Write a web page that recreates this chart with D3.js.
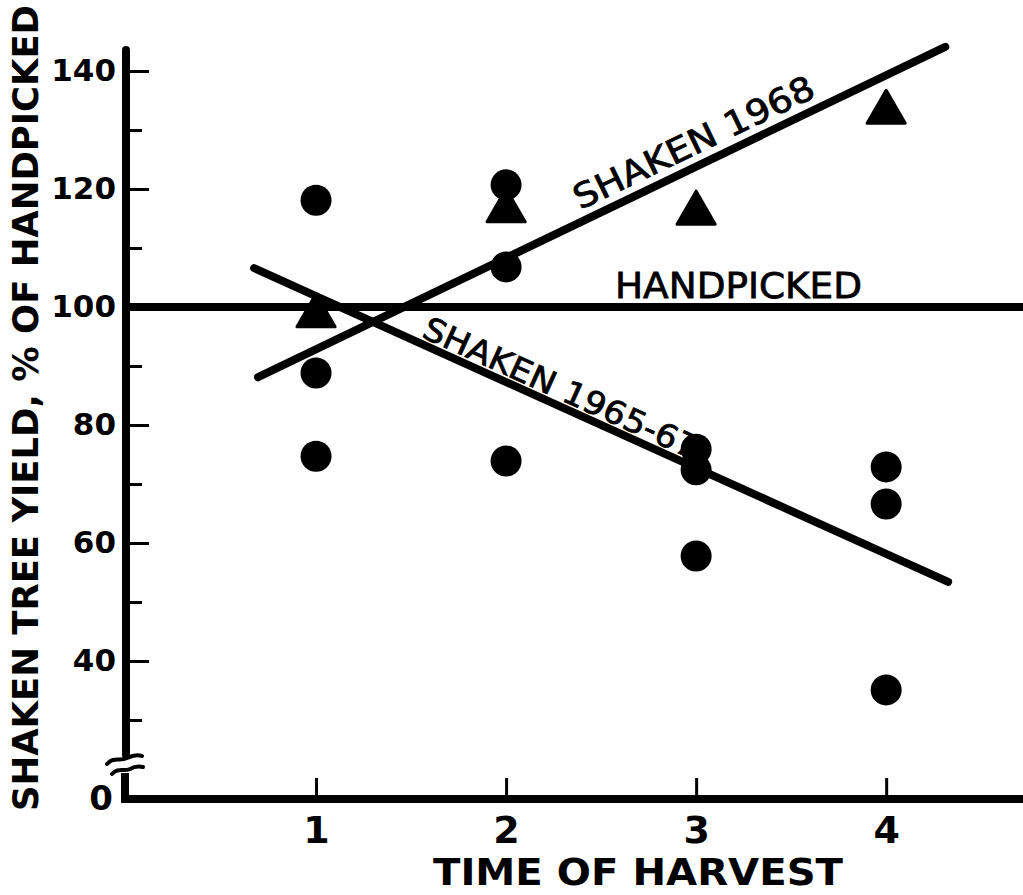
<!DOCTYPE html>
<html><head><meta charset="utf-8">
<script src="https://cdn.jsdelivr.net/npm/d3@7"></script>
<style>body{margin:0;background:#fff}svg{display:block}</style>
</head><body><svg id="c" width="1023" height="895"></svg>
<script>
// ---- data ----
const harvestTicks = [1, 2, 3, 4];
const yMajorTicks = [140, 120, 100, 80, 60, 40];
const yMinorTicks = [130, 110, 90, 70, 50, 30];
const yBreakTick = [0];
const shaken6567Time  = [1, 1, 1, 2, 2, 2, 3, 3, 3, 4, 4, 4];
const shaken6567Yield = [118.1, 88.8, 74.7, 120.7, 106.8, 73.9, 75.9, 72.4, 57.8, 72.9, 66.6, 35.1];
const shaken1968Time  = [1, 2, 3, 4];
const shaken1968Yield = [98.5, 116.3, 115.9, 133.0];
const fit1968Time  = [0.695, 4.311];
const fit1968Yield = [88.1, 144.1];
const fit6567Time  = [0.674, 4.326];
const fit6567Yield = [106.6, 53.4];
const handpickedYield = 100;

// ---- layout ----
const svg = d3.select("#c");
const FONT = "'DejaVu Sans', 'Liberation Sans', sans-serif";
const x = d3.scaleLinear().domain([0, 4.72]).range([126, 1023]);
const y = d3.scaleLinear().domain([0, 20, 140]).range([799, 779, 71]);

const ink = "#000";

// y axis (with break)
svg.append("line").attr("x1", x(0)).attr("x2", x(0)).attr("y1", 50).attr("y2", 755)
  .attr("stroke", ink).attr("stroke-width", 8).attr("stroke-linecap", "round");
svg.append("line").attr("x1", x(0) - 1).attr("x2", x(0) - 1).attr("y1", 773).attr("y2", y(0) + 4)
  .attr("stroke", ink).attr("stroke-width", 8);
// break marks
svg.append("path").attr("d", "M107,764 C114,756 120,762 127,758 C133,755 137,754 142,756")
  .attr("fill", "none").attr("stroke", ink).attr("stroke-width", 4).attr("stroke-linecap", "round");
svg.append("path").attr("d", "M112,774 C118,767 124,772 130,769 C135,766 139,766 143,767")
  .attr("fill", "none").attr("stroke", ink).attr("stroke-width", 4).attr("stroke-linecap", "round");

// x axis baseline
svg.append("line").attr("x1", x(0) - 5).attr("x2", 1023).attr("y1", y(0)).attr("y2", y(0))
  .attr("stroke", ink).attr("stroke-width", 8);

// y ticks
const yAxisG = svg.append("g").attr("transform", `translate(${x(0)},0)`)
  .call(d3.axisLeft(y).tickValues(yMajorTicks).tickSizeInner(-23).tickSizeOuter(0).tickPadding(10).tickFormat(d3.format("d")));
yAxisG.select(".domain").remove();
yAxisG.selectAll(".tick line").attr("stroke", ink).attr("stroke-width", 3);
yAxisG.selectAll(".tick text").attr("font-family", FONT).attr("font-weight", "bold")
  .attr("font-size", 31).attr("fill", ink);

const yMinorG = svg.append("g").attr("transform", `translate(${x(0)},0)`)
  .call(d3.axisLeft(y).tickValues(yMinorTicks).tickSizeInner(-16).tickSizeOuter(0).tickFormat(""));
yMinorG.select(".domain").remove();
yMinorG.selectAll(".tick line").attr("stroke", ink).attr("stroke-width", 3);

const yZeroG = svg.append("g").attr("transform", `translate(${x(0)},0)`)
  .call(d3.axisLeft(y).tickValues(yBreakTick).tickSize(0).tickPadding(13).tickFormat(d3.format("d")));
yZeroG.select(".domain").remove();
yZeroG.selectAll(".tick text").attr("font-family", FONT).attr("font-weight", "bold")
  .attr("font-size", 34).attr("fill", ink);

// x ticks
const xAxisG = svg.append("g").attr("transform", `translate(0,${y(0)})`)
  .call(d3.axisBottom(x).tickValues(harvestTicks).tickSizeInner(-21).tickSizeOuter(0).tickPadding(17).tickFormat(d3.format("d")));
xAxisG.select(".domain").remove();
xAxisG.selectAll(".tick line").attr("stroke", ink).attr("stroke-width", 3);
xAxisG.selectAll(".tick text").attr("font-family", FONT).attr("font-weight", "bold")
  .attr("font-size", 38).attr("fill", ink);

// axis titles
svg.append("text").attr("transform", "translate(38,408) rotate(-90)")
  .attr("text-anchor", "middle").attr("font-family", FONT).attr("font-weight", "bold")
  .attr("font-size", 35).attr("textLength", 806).attr("lengthAdjust", "spacingAndGlyphs")
  .text("SHAKEN TREE YIELD, % OF HANDPICKED");
svg.append("text").attr("x", 638).attr("y", 885)
  .attr("text-anchor", "middle").attr("font-family", FONT).attr("font-weight", "bold")
  .attr("font-size", 38).attr("textLength", 410).attr("lengthAdjust", "spacingAndGlyphs")
  .text("TIME OF HARVEST");

// lines
svg.append("line").attr("x1", x(0)).attr("x2", 1023)
  .attr("y1", y(handpickedYield)).attr("y2", y(handpickedYield))
  .attr("stroke", ink).attr("stroke-width", 8);

const lineGen = d3.line().x(d => x(d[0])).y(d => y(d[1]));
const fit1968 = d3.zip(fit1968Time, fit1968Yield);
const fit6567 = d3.zip(fit6567Time, fit6567Yield);
[fit1968, fit6567].forEach(pts => {
  svg.append("path").attr("d", lineGen(pts)).attr("fill", "none")
    .attr("stroke", ink).attr("stroke-width", 8).attr("stroke-linecap", "round");
});

// triangles (1968)
const tri = d3.symbol().type(d3.symbolTriangle).size(630);
svg.append("g").selectAll("path").data(d3.zip(shaken1968Time, shaken1968Yield)).join("path")
  .attr("transform", d => `translate(${x(d[0])},${y(d[1])})`)
  .attr("d", tri()).attr("fill", ink).attr("stroke", ink).attr("stroke-width", 3)
  .attr("stroke-linejoin", "round");

// circles (1965-67)
svg.append("g").selectAll("circle").data(d3.zip(shaken6567Time, shaken6567Yield)).join("circle")
  .attr("cx", d => x(d[0])).attr("cy", d => y(d[1])).attr("r", 15.5).attr("fill", ink);

// labels on lines
function lineLabel(pts, startT, offset, txt, len, size) {
  const [p0, p1] = pts;
  const ax = x(p0[0]), ay = y(p0[1]), bx = x(p1[0]), by = y(p1[1]);
  const ang = Math.atan2(by - ay, bx - ax);
  const sx = x(startT);
  const sy = ay + (sx - ax) * (by - ay) / (bx - ax);
  svg.append("text")
    .attr("transform", `translate(${sx},${sy}) rotate(${ang * 180 / Math.PI}) translate(0,${-offset})`)
    .attr("font-family", FONT).attr("font-size", size).attr("font-weight", "normal")
    .attr("stroke", ink).attr("stroke-width", 0.8)
    .attr("textLength", len).attr("lengthAdjust", "spacingAndGlyphs").attr("fill", ink)
    .text(txt);
}
lineLabel(fit1968, (585 - 126) / 190, 11, "SHAKEN 1968", 263, 34);
lineLabel(fit6567, (418 - 126) / 190, 6, "SHAKEN 1965-67", 298, 32);

svg.append("text").attr("x", 615).attr("y", 298)
  .attr("font-family", FONT).attr("font-size", 36).attr("font-weight", "normal")
  .attr("stroke", ink).attr("stroke-width", 0.8)
  .attr("textLength", 247).attr("lengthAdjust", "spacingAndGlyphs").attr("fill", ink)
  .text("HANDPICKED");
</script></body></html>
